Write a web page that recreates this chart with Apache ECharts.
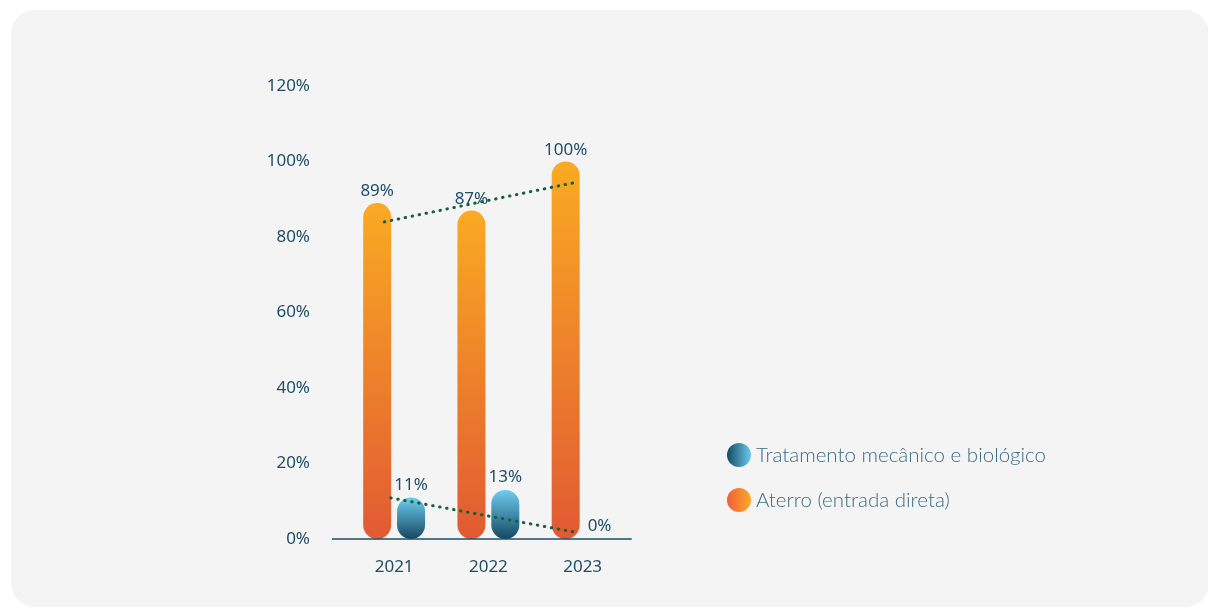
<!DOCTYPE html>
<html>
<head>
<meta charset="utf-8">
<script src="https://cdn.jsdelivr.net/npm/echarts@6/dist/echarts.min.js"></script>
<style>
  html, body { margin: 0; padding: 0; background: #ffffff; }
  #panel {
    position: absolute; left: 11px; top: 10px; width: 1198px; height: 597px;
    background: #f4f4f4; border-radius: 24px;
  }
  #chart { position: absolute; left: 0; top: 0; width: 1208px; height: 608px; }
</style>
</head>
<body>
<div id="panel"></div>
<div id="chart"></div>
<script>
// Years on the category axis
const years = ['2021', '2022', '2023'];
// Share of waste by destination (%)
const aterro = [89, 87, 100];
const tratamento = [11, 13, 0];
// Y-axis ticks (%)
const yTicks = [0, 20, 40, 60, 80, 100, 120];
// Trend lines: [position along the year axis, %]
const trendAterro = [[0.396, 84.0], [2.451, 94.6]];
const trendTratamento = [[0.464, 10.9], [2.422, 1.8]];

const seriesNames = ['Aterro (entrada direta)', 'Tratamento mecânico e biológico'];
const textDark = '#1f4d66';
const trendColor = '#17603f';
const font = '"Noto Sans", sans-serif';
const legendFont = 'Lato, "Noto Sans", sans-serif';

const vGrad = (top, bottom) => new echarts.graphic.LinearGradient(0, 0, 0, 1, [
  { offset: 0, color: top }, { offset: 1, color: bottom }
]);
const hGrad = (left, right) => new echarts.graphic.LinearGradient(0, 0, 1, 0, [
  { offset: 0, color: left }, { offset: 1, color: right }
]);

const chart = echarts.init(document.getElementById('chart'), null, { renderer: 'canvas' });

const GRID = { left: 347, top: 86, width: 282.75, height: 453 };

const option = {
  backgroundColor: 'transparent',
  animation: false,
  textStyle: { fontFamily: font },
  grid: GRID,
  legend: {
    orient: 'vertical',
    left: 727, top: 443, padding: 0,
    itemWidth: 24, itemHeight: 24, itemGap: 21,
    icon: 'circle',
    textStyle: { fontSize: 20.5, fontWeight: 300, color: '#3b6c80', fontFamily: legendFont },
    data: [
      { name: seriesNames[1], itemStyle: { color: hGrad('#154a63', '#6bcaee') } },
      { name: seriesNames[0], itemStyle: { color: hGrad('#ef5f38', '#fcaa2a') } }
    ]
  },
  xAxis: [
    {
      type: 'category',
      data: years,
      axisLine: { show: false },
      axisTick: { show: false },
      axisLabel: { color: textDark, fontSize: 17, margin: 20, fontFamily: font }
    },
    { type: 'value', min: 0, max: 3, show: false }
  ],
  yAxis: {
    type: 'value', min: yTicks[0], max: yTicks[yTicks.length - 1], interval: 20,
    axisLine: { show: false }, axisTick: { show: false },
    splitLine: { show: false },
    axisLabel: {
      color: textDark, fontSize: 17, margin: 37, fontFamily: font,
      padding: [0, 0, 9, 0], formatter: '{value}%'
    }
  },
  series: [
    {
      name: seriesNames[0], type: 'bar', data: aterro,
      barWidth: 28, barGap: '21%',
      itemStyle: { color: vGrad('#f9aa22', '#e15a33'), borderRadius: 14 },
      label: { show: true, position: 'top', distance: 3, formatter: '{c}%', color: textDark, fontSize: 17, fontFamily: font }
    },
    {
      name: seriesNames[1], type: 'bar', data: tratamento,
      barWidth: 28,
      itemStyle: { color: vGrad('#6fcdf0', '#154861'), borderRadius: 14 },
      label: { show: true, position: 'top', distance: 4, formatter: '{c}%', color: textDark, fontSize: 17, fontFamily: font }
    },
    {
      type: 'line', xAxisIndex: 1, data: trendAterro, showSymbol: false, silent: true,
      lineStyle: { color: trendColor, width: 3, type: [0.5, 6.6], cap: 'round' }, z: 5
    },
    {
      type: 'line', xAxisIndex: 1, data: trendTratamento, showSymbol: false, silent: true,
      lineStyle: { color: trendColor, width: 3, type: [0.5, 6.6], cap: 'round' }, z: 5
    }
  ]
};
chart.setOption(option);

// Baseline under the bars, running a little past the plot on the left
const y0 = chart.convertToPixel({ yAxisIndex: 0 }, 0);
chart.setOption({
  graphic: [{
    type: 'line',
    shape: { x1: GRID.left - 15, y1: y0, x2: GRID.left + GRID.width + 2, y2: y0 },
    style: { stroke: textDark, lineWidth: 1.5 },
    z: 10
  }]
});
</script>
</body>
</html>
